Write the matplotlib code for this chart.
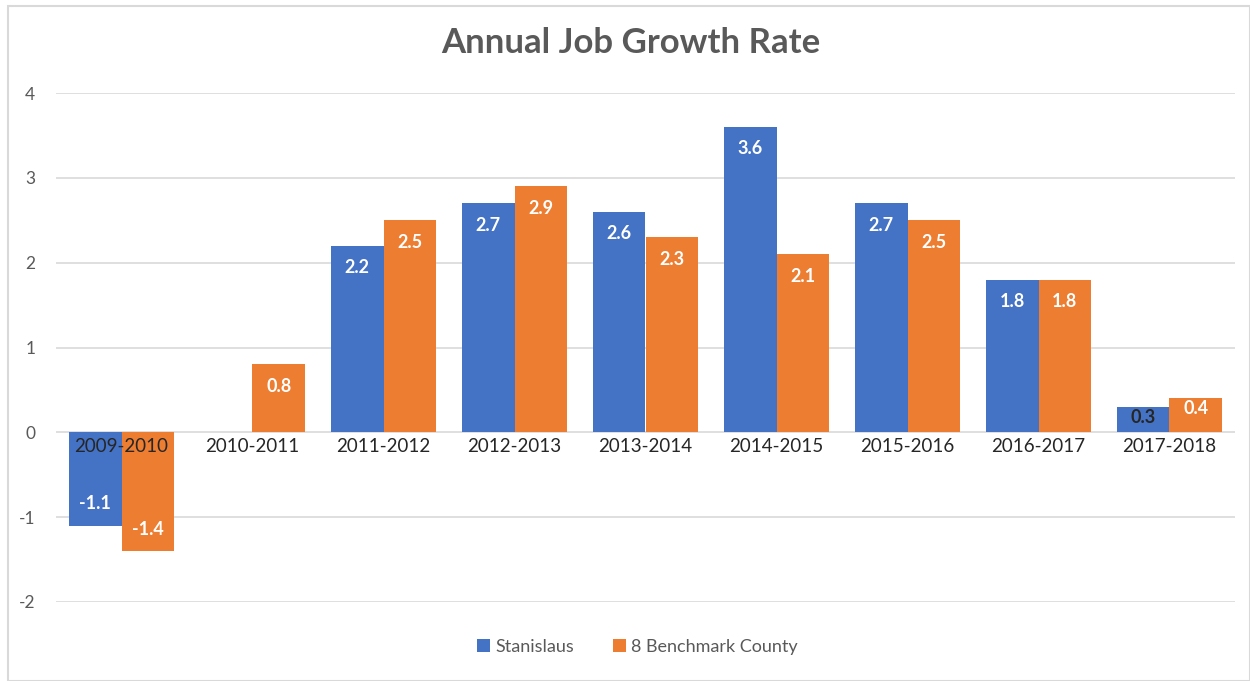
import numpy as np
import matplotlib.pyplot as plt
from matplotlib.patches import Rectangle

categories = ["2009-2010", "2010-2011", "2011-2012", "2012-2013", "2013-2014",
              "2014-2015", "2015-2016", "2016-2017", "2017-2018"]
stanislaus = [-1.1, 0.0, 2.2, 2.7, 2.6, 3.6, 2.7, 1.8, 0.3]
benchmark = [-1.4, 0.8, 2.5, 2.9, 2.3, 2.1, 2.5, 1.8, 0.4]
series_names = ["Stanislaus", "8 Benchmark County"]

blue = "#4472C4"
orange = "#ED7D31"
grid_c = "#D9D9D9"

plt.rcParams['font.family'] = ['Lato', 'DejaVu Sans']
plt.rcParams['axes.unicode_minus'] = False

fig = plt.figure(figsize=(12.5, 6.81), dpi=100)
# outer chart border
fig.patches.append(Rectangle((8 / 1250, 0), 1 - 8 / 1250, 1 - 6 / 681, transform=fig.transFigure,
                             fill=False, edgecolor=grid_c, linewidth=1.5))

ax = fig.add_axes([56 / 1250, 1 - 602 / 681, (1235 - 56) / 1250, (602 - 93) / 681])
x = np.arange(len(categories))
w = 0.4
b1 = ax.bar(x - w / 2, stanislaus, w, color=blue, label=series_names[0], zorder=2)
b2 = ax.bar(x + w / 2, benchmark, w, color=orange, label=series_names[1], zorder=2)

ax.set_xlim(-0.5, len(categories) - 0.5)
ax.set_ylim(-2, 4)
ax.set_yticks(range(-2, 5))
ax.yaxis.grid(True, color=grid_c, linewidth=1.2, zorder=0)
ax.set_axisbelow(True)
for s in ax.spines.values():
    s.set_visible(False)
ax.tick_params(axis="y", length=0, pad=15, labelsize=12.5, labelcolor="#595959")
ax.set_xticks([])

# category labels just under zero line
for i, c in enumerate(categories):
    ax.text(i, -0.17, c, ha="center", va="center", fontsize=13.5, color="#262626", zorder=3)

# value labels inside end
for bars, vals in ((b1, stanislaus), (b2, benchmark)):
    for rect, v in zip(bars, vals):
        if v == 0:
            continue
        cx = rect.get_x() + rect.get_width() / 2
        col = "white"
        if abs(v) < 0.35 and bars is b1:
            col = "#262626"
        off = -0.26 if v > 0 else 0.26
        if abs(v) < 0.5:
            off = -0.12
        ax.text(cx, v + off, f"{v:.1f}", ha="center", va="center", fontsize=13,
                fontweight="bold", color=col, zorder=4)

fig.text(0.505, 1 - 43 / 681, "Annual Job Growth Rate", ha="center", va="center",
         fontsize=25, fontweight="bold", color="#595959")

leg = fig.legend(handles=[b1, b2], labels=series_names, loc="center", bbox_to_anchor=(0.51, 1 - 647 / 681),
                 ncol=2, frameon=False, fontsize=13, handlelength=0.7, handleheight=0.7,
                 handletextpad=0.3, columnspacing=2.2)
for t in leg.get_texts():
    t.set_color("#595959")

fig.savefig("out.png", dpi=100)
